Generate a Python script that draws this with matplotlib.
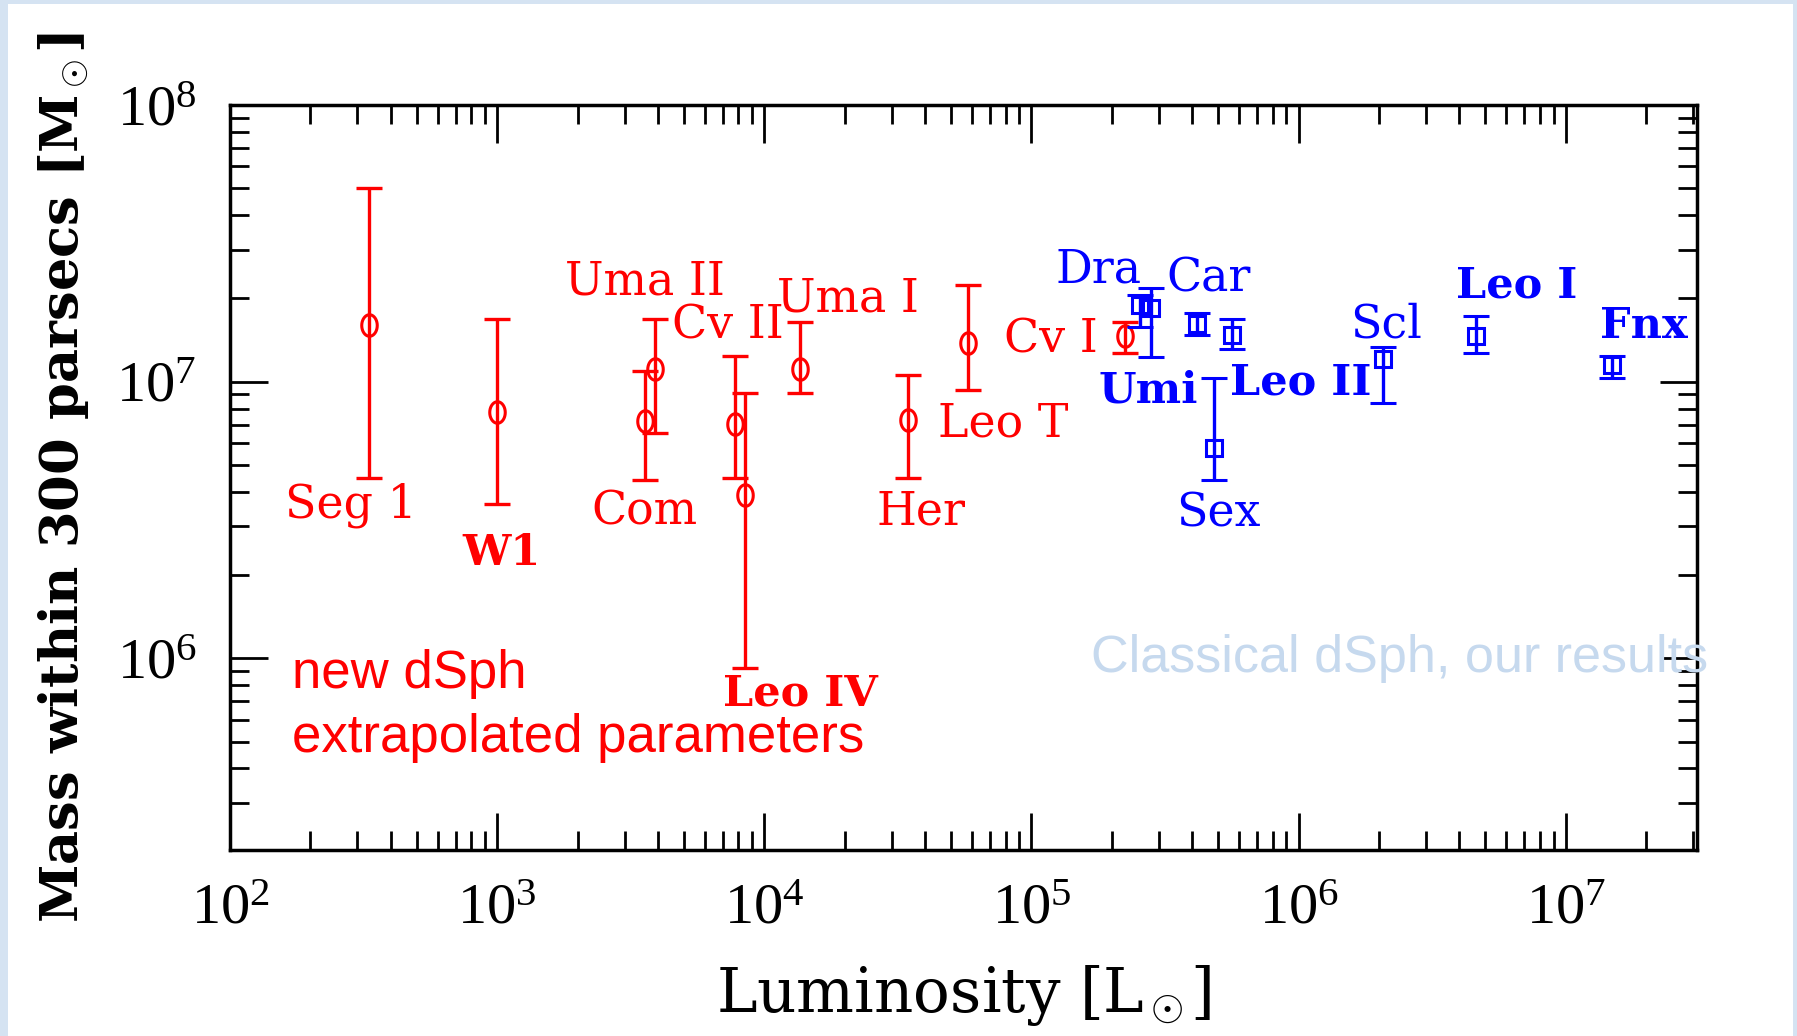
import matplotlib
matplotlib.use("Agg")
import numpy as np
import matplotlib.pyplot as plt
import matplotlib.ticker as ticker
from matplotlib.patches import Rectangle
from matplotlib.path import Path

plt.rcParams['mathtext.fontset'] = 'custom'
plt.rcParams['mathtext.rm'] = 'Liberation Serif'
plt.rcParams['mathtext.it'] = 'Liberation Serif:italic'
plt.rcParams['mathtext.bf'] = 'Liberation Serif:bold'

# new (ultra-faint) dwarfs: luminosity, mass within 300 pc and its range
new_lum = [332, 1000, 3580, 3900, 7760, 8450, 13650, 34600, 58000, 2.24e5]
new_mass = [1.6e7, 7.8e6, 7.2e6, 1.11e7, 7.05e6, 3.9e6, 1.11e7, 7.3e6, 1.38e7, 1.46e7]
new_hi = [5.0e7, 1.68e7, 1.09e7, 1.68e7, 1.24e7, 9.1e6, 1.64e7, 1.06e7, 2.24e7, 1.65e7]
new_lo = [4.5e6, 3.6e6, 4.4e6, 6.5e6, 4.5e6, 9.2e5, 9.1e6, 4.5e6, 9.3e6, 1.27e7]

# classical dwarfs
cls_lum = [2.55e5, 2.8e5, 4.16e5, 4.82e5, 5.62e5, 2.07e6, 4.61e6, 1.49e7]
cls_mass = [1.90e7, 1.85e7, 1.61e7, 5.77e6, 1.47e7, 1.21e7, 1.46e7, 1.15e7]
cls_hi = [2.06e7, 2.18e7, 1.77e7, 1.03e7, 1.68e7, 1.34e7, 1.73e7, 1.24e7]
cls_lo = [1.58e7, 1.23e7, 1.48e7, 4.4e6, 1.31e7, 8.4e6, 1.27e7, 1.03e7]

# name labels (left edge / baseline in data units)
new_names = ['Seg 1', 'W1', 'Com', 'Uma II', 'Cv II', 'Uma I', 'Her', 'Leo T', 'Cv I', 'Leo IV']
new_name_x = [160, 740, 2260, 1795, 4500, 11200, 26400, 44600, 78700, 7030]
new_name_y = [3.23e6, 2.17e6, 3.05e6, 2.06e7, 1.43e7, 1.79e7, 3.05e6, 6.32e6, 1.27e7, 6.75e5]
new_name_bold = [False, True, False, False, False, False, False, False, False, True]

cls_names = ['Dra', 'Car', 'Umi', 'Leo II', 'Sex', 'Scl', 'Leo I', 'Fnx']
cls_name_x = [1.23e5, 3.21e5, 1.78e5, 5.53e5, 3.48e5, 1.56e6, 3.89e6, 1.34e7]
cls_name_y = [2.28e7, 2.11e7, 8.4e6, 8.97e6, 3.0e6, 1.44e7, 2.01e7, 1.44e7]
cls_name_bold = [False, False, True, True, False, False, True, True]

RED = '#ff0000'
BLUE = '#0000ff'

# tall open ellipse used as the marker of the new dwarfs
t = np.linspace(0, 2 * np.pi, 41)
ellipse = Path(np.column_stack([0.72 * np.cos(t), np.sin(t)]), closed=True)

fig = plt.figure(figsize=(17.97, 10.36), dpi=100)
fig.patch.set_facecolor('#d5e3f2')
fig.add_artist(Rectangle((8 / 1797, 0), 1785 / 1797, 1032 / 1036,
                         transform=fig.transFigure, facecolor='white',
                         edgecolor='none', zorder=-5))

ax = fig.add_axes([230 / 1797, 186 / 1036, 1467 / 1797, 745 / 1036])
ax.set_facecolor('none')
ax.set_xscale('log')
ax.set_yscale('log')
ax.set_xlim(100, 3.1e7)
ax.set_ylim(2.03e5, 1e8)

yerr_new = [[m - lo for m, lo in zip(new_mass, new_lo)],
            [hi - m for m, hi in zip(new_mass, new_hi)]]
ax.errorbar(new_lum, new_mass, yerr=yerr_new, fmt='none', ecolor=RED,
            elinewidth=2.4, capsize=9.5, capthick=2.4)
ax.plot(new_lum, new_mass, ls='none', marker=ellipse, ms=15.5,
        mfc='none', mec=RED, mew=2.2)

yerr_cls = [[m - lo for m, lo in zip(cls_mass, cls_lo)],
            [hi - m for m, hi in zip(cls_mass, cls_hi)]]
ax.errorbar(cls_lum, cls_mass, yerr=yerr_cls, fmt='s', color=BLUE,
            mfc='none', mec=BLUE, ms=11, mew=2.2, elinewidth=2.4,
            capsize=9.5, capthick=2.4)

for name, x, y, b in zip(new_names, new_name_x, new_name_y, new_name_bold):
    ax.text(x, y, name, color=RED, fontsize=31 if b else 33, family='DejaVu Serif',
            weight='bold' if b else 'normal', ha='left', va='baseline')
for name, x, y, b in zip(cls_names, cls_name_x, cls_name_y, cls_name_bold):
    ax.text(x, y, name, color=BLUE, fontsize=31 if b else 33, family='DejaVu Serif',
            weight='bold' if b else 'normal', ha='left', va='baseline')

ax.text(0.042, 0.217, 'new dSph', transform=ax.transAxes, color=RED,
        fontsize=38, family='Liberation Sans', va='baseline')
ax.text(0.042, 0.131, 'extrapolated parameters', transform=ax.transAxes,
        color=RED, fontsize=38, family='Liberation Sans', va='baseline')
ax.text(0.587, 0.239, 'Classical dSph, our results', transform=ax.transAxes,
        color='#c6d9ee', fontsize=37.5, family='Liberation Sans', va='baseline')

# axes frame and ticks
for sp in ax.spines.values():
    sp.set_linewidth(2.5)
ax.tick_params(which='both', direction='in', top=True, right=True, width=2)
ax.tick_params(which='major', length=27, labelsize=42, pad=24)
ax.tick_params(which='minor', length=14)
ax.xaxis.set_major_locator(ticker.LogLocator(base=10, numticks=10))
ax.xaxis.set_minor_locator(ticker.LogLocator(base=10, subs=range(2, 10), numticks=20))
ax.yaxis.set_minor_locator(ticker.LogLocator(base=10, subs=range(2, 10), numticks=20))
ax.xaxis.set_minor_formatter(ticker.NullFormatter())
ax.yaxis.set_minor_formatter(ticker.NullFormatter())
for lab in ax.get_xticklabels() + ax.get_yticklabels():
    lab.set_family('Liberation Serif')

ax.set_xlabel(r'Luminosity [L$_\odot$]', fontsize=44, family='DejaVu Serif', labelpad=20)
ax.set_ylabel(r'Mass within 300 parsecs [M$_\odot$]', fontsize=38,
              family='DejaVu Serif', weight='bold', labelpad=18)

fig.savefig('out.png', dpi=100, facecolor=fig.get_facecolor())
